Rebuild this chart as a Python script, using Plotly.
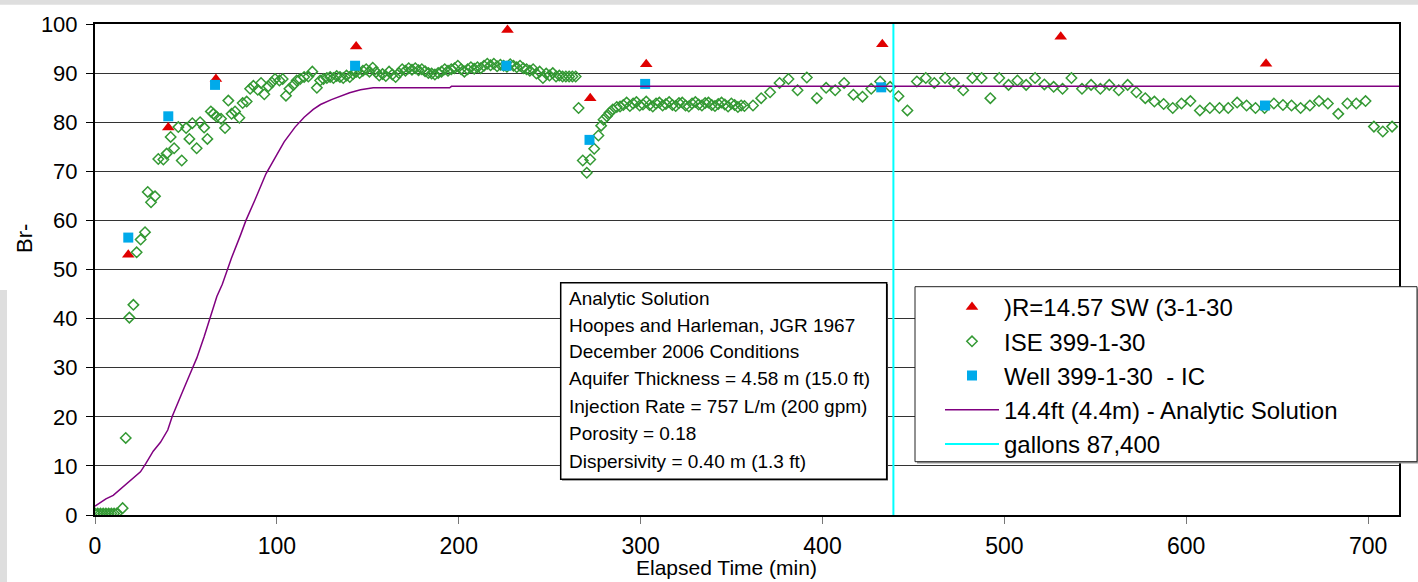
import plotly.graph_objects as go

# ---------------- data ----------------
sw_x = [18.3, 40.3, 66.5, 143.6, 226.8, 272.3, 303.1, 432.9, 531.0, 643.9]
sw_y = [53.0, 78.9, 88.8, 95.4, 98.8, 84.9, 91.8, 95.9, 97.4, 91.9]

ic_x = [18.3, 40.3, 66.0, 143.0, 226.2, 271.9, 302.5, 432.3, 643.3]
ic_y = [56.5, 81.2, 87.6, 91.5, 91.5, 76.4, 87.8, 87.1, 83.4]

ise_x = [0, 1.5, 3, 4.5, 6, 7.5, 9, 10.5, 12, 15.2, 16.9, 18.9, 21.1, 22.9, 25.1, 27.5, 29.0, 30.8, 33.0,
         34.8, 37.6, 39.4, 41.6, 43.5, 45.8, 47.7, 50.1, 51.9, 53.5, 55.9, 57.8, 60.0, 61.8, 63.7, 65.1,
         66.9, 69.3, 71.5, 73.3, 75.1, 77.0, 79.4, 81.2, 83.4, 85.3, 87.1, 89.5, 91.3, 93.1, 95.3, 97.2,
         99.0, 101.4, 103.2, 105.0, 106.9, 109.1, 110.9, 112.8, 115.0, 117.3, 119.5, 122.0, 123.8, 125.6,
         127.5, 129.3, 131.1, 132.9, 134.7, 136.5, 138.3, 140.1, 141.9, 143.7, 145.5, 147.3, 149.1, 150.9,
         152.7, 154.5, 156.3, 158.1, 159.9, 161.7, 163.5, 165.3, 167.1, 168.9, 170.7, 172.5, 174.3, 176.1,
         177.9, 179.7, 181.5, 183.3, 185.1, 186.9, 188.7, 190.5, 192.3, 194.1, 195.9, 197.7, 199.5, 201.3,
         203.1, 204.9, 206.7, 208.5, 210.3, 212.1, 213.9, 215.7, 217.5, 219.3, 221.1, 222.9, 224.7, 226.5,
         228.3, 230.1, 231.9, 233.7, 235.5, 237.3, 239.1, 240.9, 242.7, 244.5, 246.3, 248.1, 249.9, 251.7,
         253.5, 255.3, 257.1, 258.9, 260.7, 262.5, 264.3,
         265.9, 268.2, 270.4, 272.3, 274.5, 276.8, 278.3, 279.6, 281.4, 282.9, 284.7, 286.9, 288.7,
         290.5, 292.3, 294.1, 295.9, 297.7, 299.5, 301.3, 303.1, 304.9, 306.7, 308.5, 310.3, 312.1, 313.9,
         315.7, 317.5, 319.3, 321.1, 322.9, 324.7, 326.5, 328.3, 330.1, 331.9, 333.7, 335.5, 337.3, 339.1,
         340.9, 342.7, 344.5, 346.3, 348.1, 349.9, 351.7, 353.5, 355.3, 357.1,
         361.8, 366.3, 371.2, 376.4, 381.3, 386.3, 391.4, 396.9, 402.0, 407.0, 411.9, 417.0, 422.0, 426.8,
         431.7, 437.2, 441.8, 446.7, 451.9, 456.8, 461.5, 467.4, 472.3, 477.4, 482.4, 487.5, 492.3, 497.2,
         502.3, 507.2, 512.0, 516.9, 522.0, 527.1, 532.0, 536.9, 542.7, 547.7, 552.8, 557.7, 562.9, 567.8,
         572.6, 577.5, 582.5, 587.6, 592.6, 597.4, 602.3, 607.5, 613.0, 618.3, 623.1, 628.0, 633.2, 638.1,
         643.1, 648.2, 653.2, 657.9, 662.9, 668.0, 673.0, 677.9, 683.6, 688.6, 693.5, 698.6, 703.2, 708.1,
         713.2]
ise_y = [0.3, 0.3, 0.3, 0.3, 0.3, 0.3, 0.3, 0.3, 0.3, 1.4, 15.7, 40.2, 42.8, 53.5, 56.1, 57.6, 65.8, 63.7, 64.9,
         72.5, 72.4, 73.6, 77.0, 74.7, 79.0, 72.2, 78.8, 76.6, 79.8, 74.7, 80.0, 78.9, 76.6, 82.2, 81.7,
         81.1, 80.7, 78.8, 84.4, 81.7, 82.2, 80.9, 83.9, 84.2, 86.8, 87.4, 86.6, 88.0, 85.7, 87.3, 88.1,
         88.8, 88.5, 88.8, 85.4, 86.8, 87.6, 88.5, 88.8, 89.2, 89.3, 90.3, 87.0, 88.5, 88.8,
         89.0, 89.2, 89.0, 89.4, 89.2, 89.0, 89.5, 89.2, 89.8, 90.3, 90.0, 90.5, 90.8, 90.3,
         91.1, 90.2, 89.5, 89.8, 89.4, 90.3, 89.7, 89.2, 90.0, 90.8, 90.5, 91.0, 90.7, 91.0,
         90.6, 90.8, 90.4, 90.0, 89.9, 89.7, 90.0, 90.3, 90.8, 90.5, 90.8, 91.0, 91.5, 90.8,
         90.3, 90.8, 91.2, 90.9, 91.2, 91.0, 91.5, 91.9, 91.6, 91.9, 91.4, 91.7, 91.5, 91.3,
         91.8, 91.5, 91.2, 91.5, 91.0, 90.8, 90.5, 90.8, 89.9, 90.3, 89.0, 89.9, 89.5, 90.0,
         89.3, 89.5, 89.3, 89.3, 89.3, 89.3, 89.3,
         82.9, 72.2, 69.7, 72.4, 74.6, 77.3, 79.3, 80.5, 81.2, 81.9, 82.6, 83.1, 83.2,
         83.5, 84.0, 83.3, 83.8, 84.1, 83.4, 83.6, 84.2, 83.5, 83.2, 83.8, 84.0, 83.4, 83.7,
         84.1, 83.5, 83.3, 83.9, 84.0, 83.4, 83.2, 83.8, 84.1, 83.6, 83.4, 83.9, 84.0, 83.5,
         83.3, 83.7, 84.0, 83.6, 83.2, 83.8, 83.5, 83.1, 83.4, 83.3,
         83.4, 84.9, 86.1, 88.0, 88.8, 86.5, 89.1, 84.9, 87.0, 86.5, 88.0, 85.6, 85.2, 86.8,
         88.3, 87.2, 85.3, 82.4, 88.3, 89.0, 88.0, 89.0, 88.0, 86.5, 89.0, 89.0, 84.9, 89.0,
         87.6, 88.5, 87.6, 89.0, 87.7, 87.2, 86.8, 89.0, 86.8, 87.6, 86.8, 87.6, 86.5, 87.6,
         86.1, 84.9, 84.2, 83.7, 82.9, 83.8, 84.3, 82.4, 82.9, 82.9, 82.9, 84.0, 83.4, 82.9,
         82.9, 83.8, 83.5, 83.4, 82.9, 83.4, 84.3, 83.8, 81.7, 83.8, 83.8, 84.3, 79.1, 78.1,
         79.1]

an_x = [0, 3, 6, 10, 14, 18, 22, 25, 28, 32, 36, 40, 42.5, 44, 48, 52, 56, 60, 63, 67, 70, 75, 80, 83,
        88, 94, 100, 104, 110, 115, 120, 124, 130, 135, 140, 146, 153, 195, 196, 300, 400, 500, 600, 717]
an_y = [1.8, 2.6, 3.3, 4.0, 5.3, 6.7, 8.0, 8.8, 10.5, 13.0, 14.8, 17.3, 20.1, 21.5, 25.0, 28.5, 32.0,
        36.3, 39.8, 44.5, 47.0, 52.3, 57.0, 60.0, 64.2, 69.5, 73.4, 76.0, 79.0, 81.0, 82.6, 83.6, 84.6,
        85.3, 86.0, 86.6, 87.0, 87.0, 87.3, 87.3, 87.3, 87.3, 87.3, 87.3]

gallons_x = 439.0
x_ticks = [0, 100, 200, 300, 400, 500, 600, 700]
y_ticks = [0, 10, 20, 30, 40, 50, 60, 70, 80, 90, 100]

box_lines = ["Analytic Solution",
             "Hoopes and Harleman, JGR 1967",
             "December 2006 Conditions",
             "Aquifer Thickness = 4.58 m (15.0 ft)",
             "Injection Rate = 757 L/m (200 gpm)",
             "Porosity = 0.18",
             "Dispersivity = 0.40 m (1.3 ft)"]

FONT = "Liberation Sans, Arial, sans-serif"

fig = go.Figure()
fig.add_trace(go.Scatter(x=sw_x, y=sw_y, mode="markers", name=")R=14.57 SW (3-1-30",
                         marker=dict(symbol="triangle-up", size=11, color="#e00000")))
fig.add_trace(go.Scatter(x=ise_x, y=ise_y, mode="markers", name="ISE 399-1-30",
                         marker=dict(symbol="diamond-open", size=8, color="#339933",
                                     line=dict(width=1.5, color="#339933"))))
fig.add_trace(go.Scatter(x=ic_x, y=ic_y, mode="markers", name="Well 399-1-30  - IC",
                         marker=dict(symbol="square", size=10, color="#00aaea")))
fig.add_trace(go.Scatter(x=an_x, y=an_y, mode="lines", name="14.4ft (4.4m) - Analytic Solution",
                         line=dict(color="#800080", width=1.5)))
fig.add_trace(go.Scatter(x=[gallons_x, gallons_x], y=[0, 100], mode="lines", name="gallons 87,400",
                         line=dict(color="#00ffff", width=2)))

L, R, T, B = 95, 19, 24, 67
W, H = 1418, 582
PW, PH = W - L - R, H - T - B


def px(x):
    return (x - L) / PW


def py(y):
    return (H - B - y) / PH


shapes = [
    # grey strips at the edges of the picture
    dict(type="rect", xref="paper", yref="paper", x0=px(0), x1=px(W), y0=py(4.7), y1=py(0),
         fillcolor="#dedede", line=dict(width=0), layer="above"),
    dict(type="rect", xref="paper", yref="paper", x0=px(0), x1=px(7), y0=py(H), y1=py(290),
         fillcolor="#dedede", line=dict(width=0), layer="above"),
    # text box
    dict(type="rect", xref="paper", yref="paper", x0=px(562), x1=px(888), y0=py(480.5), y1=py(284),
         fillcolor="#555", line=dict(width=0), layer="above"),
    dict(type="rect", xref="paper", yref="paper", x0=px(560.7), x1=px(886.7), y0=py(479.3), y1=py(282.7),
         fillcolor="white", line=dict(color="black", width=1.5), layer="above"),
    # legend box
    dict(type="rect", xref="paper", yref="paper", x0=px(917), x1=px(1419), y0=py(463.5), y1=py(288.5),
         fillcolor="#999", line=dict(width=0), layer="above"),
    dict(type="rect", xref="paper", yref="paper", x0=px(915), x1=px(1417), y0=py(461.7), y1=py(286.7),
         fillcolor="white", line=dict(color="#222", width=1), layer="above"),
]

annotations = []
line_y = [298.3, 325.0, 351.7, 378.3, 406.0, 433.3, 461.0]
for txt, yy in zip(box_lines, line_y):
    annotations.append(dict(text=txt, xref="paper", yref="paper", x=px(567), y=py(yy),
                            xanchor="left", yanchor="middle", showarrow=False,
                            font=dict(family=FONT, size=19, color="black")))
annotations.append(dict(text="Br-", xref="paper", yref="paper", x=px(25), y=py(239), textangle=-90,
                        xanchor="center", yanchor="middle", showarrow=False,
                        font=dict(family=FONT, size=22, color="black")))
annotations.append(dict(text="Elapsed Time (min)", xref="paper", yref="paper", x=px(726), y=py(567.5),
                        xanchor="center", yanchor="middle", showarrow=False,
                        font=dict(family=FONT, size=21, color="black")))

fig.update_layout(
    width=W, height=H, autosize=False,
    margin=dict(l=L, r=R, t=T, b=B, pad=0),
    paper_bgcolor="white", plot_bgcolor="white",
    font=dict(family=FONT, color="black"),
    showlegend=True,
    legend=dict(x=px(940), y=py(285), xanchor="left", yanchor="top",
                bgcolor="rgba(0,0,0,0)", borderwidth=0, itemwidth=54,
                font=dict(family=FONT, size=24, color="black")),
    shapes=shapes,
    annotations=annotations,
    xaxis=dict(range=[0, 717], tickvals=x_ticks, ticktext=[str(v) for v in x_ticks],
               showgrid=False, zeroline=False, showline=True, linecolor="black", linewidth=2,
               mirror=True, ticks="outside", ticklen=7, tickcolor="#777", tickwidth=1,
               ticklabelstandoff=2, tickfont=dict(family=FONT, size=23, color="black")),
    yaxis=dict(range=[0, 100], tickvals=y_ticks, ticktext=[str(v) for v in y_ticks],
               showgrid=True, gridcolor="#333", gridwidth=1, zeroline=False,
               showline=True, linecolor="black", linewidth=2, mirror=True,
               ticks="outside", ticklen=7, tickcolor="black", tickwidth=1,
               ticklabelstandoff=4, tickfont=dict(family=FONT, size=22, color="black")),
)

fig.write_html("out.html", config={"displayModeBar": False},
               post_script="document.body.style.margin='0px';")
